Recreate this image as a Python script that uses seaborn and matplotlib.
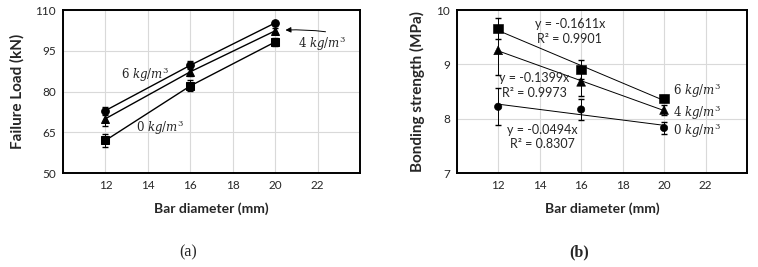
import numpy as np
import pandas as pd
import matplotlib
matplotlib.use("Agg")
import matplotlib.pyplot as plt
import seaborn as sns

# data
diam = [12, 16, 20]
mixes = ["6", "4", "0"]  # fibre content kg/m3

load_6 = [73.0, 89.7, 105.3]
load_4 = [70.0, 87.3, 102.4]
load_0 = [62.0, 82.1, 98.3]
load_err_6 = [1.5, 1.5, 0.8]
load_err_4 = [2.6, 1.6, 1.0]
load_err_0 = [2.5, 2.0, 1.5]

bond_6 = [9.66, 8.91, 8.37]
bond_4 = [9.26, 8.68, 8.16]
bond_0 = [8.22, 8.17, 7.83]
bond_err_6 = [0.20, 0.17, 0.07]
bond_err_4 = [0.45, 0.27, 0.10]
bond_err_0 = [0.34, 0.20, 0.11]

eq_text = ["y = -0.1611x\nR² = 0.9901", "y = -0.1399x\nR² = 0.9973", "y = -0.0494x\nR² = 0.8307"]

sns.set_style("whitegrid", {"grid.color": "#d9d9d9", "axes.edgecolor": "black"})
plt.rcParams["font.family"] = ["Lato", "DejaVu Sans"]
plt.rcParams["mathtext.fontset"] = "dejavuserif"

markers_a = {"6": "o", "4": "^", "0": "s"}
markers_b = {"6": "s", "4": "^", "0": "o"}
sizes_b = {"6": 46, "4": 40, "0": 28}

fig = plt.figure(figsize=(7.58, 2.67), dpi=100)
ax1 = fig.add_axes([0.0831, 0.352, 0.392, 0.610])
ax2 = fig.add_axes([0.6025, 0.352, 0.383, 0.610])

df1 = pd.DataFrame({
    "d": diam * 3,
    "load": load_6 + load_4 + load_0,
    "err": load_err_6 + load_err_4 + load_err_0,
    "mix": ["6"] * 3 + ["4"] * 3 + ["0"] * 3,
})
df2 = pd.DataFrame({
    "d": diam * 3,
    "bond": bond_6 + bond_4 + bond_0,
    "err": bond_err_6 + bond_err_4 + bond_err_0,
    "mix": ["6"] * 3 + ["4"] * 3 + ["0"] * 3,
})

# (a) failure load
sns.lineplot(data=df1, x="d", y="load", style="mix", markers=markers_a, dashes=False,
             color="black", markersize=5.5, linewidth=1.0, legend=False, ax=ax1,
             markeredgecolor="black")
for m in mixes:
    s = df1[df1.mix == m]
    ax1.errorbar(s.d, s.load, yerr=s.err, fmt="none", ecolor="black", elinewidth=0.7, capsize=2)

ax1.text(13.85, 86.4, r"$6\ kg/m^3$", ha="center", va="center", fontsize=8.5)
ax1.text(14.57, 66.6, r"$0\ kg/m^3$", ha="center", va="center", fontsize=8.5)
ax1.text(22.2, 97.6, r"$4\ kg/m^3$", ha="center", va="center", fontsize=8.5)
ax1.annotate("", xy=(20.35, 102.6), xytext=(22.5, 101.9),
             arrowprops=dict(arrowstyle="-|>", color="black", lw=0.7,
                             connectionstyle="arc3,rad=0.05", mutation_scale=8))

ax1.set_xlim(10, 24)
ax1.set_ylim(50, 110)
ax1.set_xticks([10, 12, 14, 16, 18, 20, 22, 24])
ax1.set_xticklabels(["", "12", "14", "16", "18", "20", "22", ""])
ax1.set_yticks([50, 65, 80, 95, 110])
ax1.set_xlabel("Bar diameter (mm)", fontsize=10, fontweight="bold", labelpad=8)
ax1.set_ylabel("Failure Load (kN)", fontsize=11, fontweight="bold", labelpad=8)

# (b) bonding strength
sns.scatterplot(data=df2, x="d", y="bond", style="mix", markers=markers_b, color="black",
                size="mix", sizes=sizes_b, edgecolor="black", legend=False, ax=ax2, zorder=3)
for m in mixes:
    s = df2[df2.mix == m]
    ax2.errorbar(s.d, s.bond, yerr=s.err, fmt="none", ecolor="black", elinewidth=0.7, capsize=2)
    k, b = np.polyfit(s.d, s.bond, 1)
    xs = np.array([12, 20])
    ax2.plot(xs, k * xs + b, color="black", lw=0.7)

ax2.text(15.45, 9.61, eq_text[0], ha="center", va="center", fontsize=9, linespacing=1.25)
ax2.text(13.75, 8.61, eq_text[1], ha="center", va="center", fontsize=9, linespacing=1.25)
ax2.text(14.15, 7.66, eq_text[2], ha="center", va="center", fontsize=9, linespacing=1.25)
ax2.text(20.45, 8.51, r"$6\ kg/m^3$", ha="left", va="center", fontsize=8.5)
ax2.text(20.45, 8.12, r"$4\ kg/m^3$", ha="left", va="center", fontsize=8.5)
ax2.text(20.45, 7.78, r"$0\ kg/m^3$", ha="left", va="center", fontsize=8.5)

ax2.set_xlim(10, 24)
ax2.set_ylim(7, 10)
ax2.set_xticks([10, 12, 14, 16, 18, 20, 22, 24])
ax2.set_xticklabels(["", "12", "14", "16", "18", "20", "22", ""])
ax2.set_yticks([7, 8, 9, 10])
ax2.set_xlabel("Bar diameter (mm)", fontsize=10, fontweight="bold", labelpad=8)
ax2.set_ylabel("Bonding strength (MPa)", fontsize=11, fontweight="bold", labelpad=8)

for ax in (ax1, ax2):
    ax.tick_params(labelsize=8.5, length=0, pad=5)
    for sp in ax.spines.values():
        sp.set_linewidth(1.4)
        sp.set_color("black")
    ax.grid(True, color="#d9d9d9", lw=0.8)

fig.text(0.248, 0.055, "(a)", ha="center", va="center", fontsize=11.5,
         family=["Liberation Serif", "DejaVu Serif"])
fig.text(0.764, 0.055, "(b)", ha="center", va="center", fontsize=11.5, fontweight="bold",
         family=["Liberation Serif", "DejaVu Serif"])

fig.savefig("out.png", dpi=100)
